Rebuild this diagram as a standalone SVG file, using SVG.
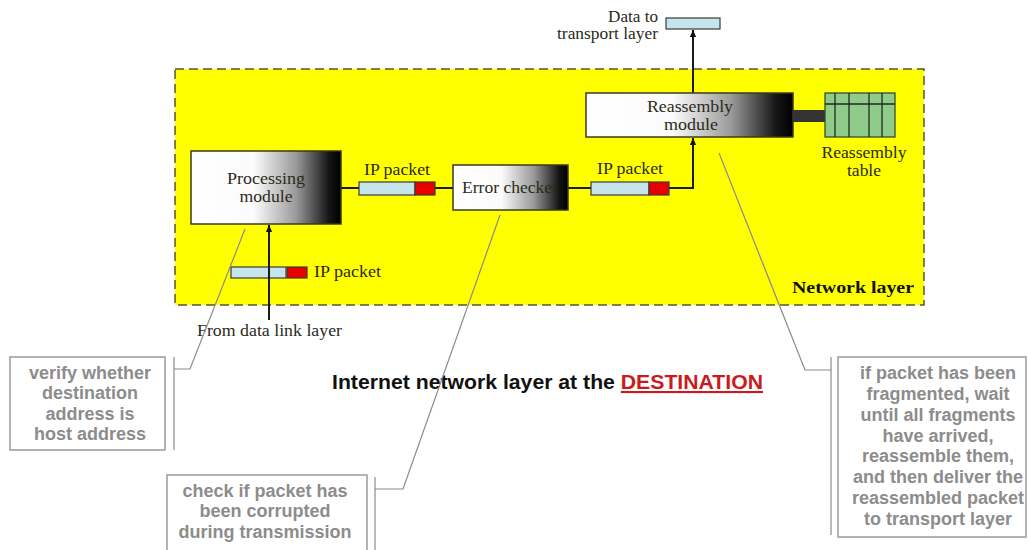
<svg xmlns="http://www.w3.org/2000/svg" width="1028" height="550" viewBox="0 0 1028 550">
  <defs>
    <linearGradient id="modFill" x1="0" y1="0" x2="1" y2="0">
      <stop offset="0" stop-color="#ffffff"/>
      <stop offset="0.42" stop-color="#fbfbfb"/>
      <stop offset="0.7" stop-color="#9a9a9a"/>
      <stop offset="0.92" stop-color="#151515"/>
      <stop offset="1" stop-color="#000000"/>
    </linearGradient>
    <marker id="arrow" viewBox="0 0 10 10" refX="10" refY="5" markerWidth="7" markerHeight="7" markerUnits="userSpaceOnUse" orient="auto">
      <path d="M0,0.5 L10,5 L0,9.5 Z" fill="#111"/>
    </marker>
    <style>
      .serif { font-family: "Liberation Serif", "Times New Roman", serif; font-size: 16px; fill: #2a2a1a; }
      .module { fill: url(#modFill); stroke: #3a3a20; stroke-width: 1.5; }
      .payload { fill: #c6e4ec; stroke: #3a3a3a; stroke-width: 1.2; }
      .trailer { fill: #e80000; stroke: #3a3a3a; stroke-width: 1.2; }
      .wire { fill: none; stroke: #1a1a1a; stroke-width: 2; }
      .note-box { fill: #ffffff; stroke: #9a9a9a; stroke-width: 1.5; }
      .note-text { font-family: "Liberation Sans", Arial, sans-serif; font-size: 18px; font-weight: bold; fill: #8c8c8c; text-anchor: middle; }
      .leader { fill: none; stroke: #8a8a8a; stroke-width: 1.2; }
      .cell { stroke: #1e2a1e; stroke-width: 1.3; }
    </style>
  </defs>

  <rect width="1028" height="550" fill="#ffffff"/>

  <!-- network layer area -->
  <g id="network-layer">
    <rect x="175" y="69" width="749" height="236" fill="#ffff00" stroke="#555533" stroke-width="1.5" stroke-dasharray="9 5"/>
    <text x="914" y="293" text-anchor="end" class="serif" style="font-weight:bold; fill:#111" textLength="122" lengthAdjust="spacingAndGlyphs">Network layer</text>
  </g>

  <!-- connectors -->
  <g id="connectors">
    <line class="wire" x1="341" y1="188" x2="359" y2="188"/>
    <line class="wire" x1="435" y1="188" x2="453" y2="188"/>
    <line class="wire" x1="568" y1="188" x2="591" y2="188"/>
    <polyline class="wire" points="669,188 693,188 693,138" marker-end="url(#arrow)"/>
    <line class="wire" x1="693" y1="93" x2="693" y2="30" marker-end="url(#arrow)"/>
    <rect x="793" y="110" width="32" height="12" fill="#333333"/>
  </g>

  <!-- processing module -->
  <g id="processing-module">
    <rect class="module" x="191" y="151" width="150" height="73"/>
    <text class="serif" x="266" y="184" text-anchor="middle" textLength="78" lengthAdjust="spacingAndGlyphs">Processing</text>
    <text class="serif" x="266" y="202" text-anchor="middle" textLength="53" lengthAdjust="spacingAndGlyphs">module</text>
  </g>

  <!-- packet between processing module and error checker -->
  <g id="packet-1">
    <rect class="payload" x="359" y="182" width="56" height="13"/>
    <rect class="trailer" x="415" y="182" width="20" height="13"/>
    <text class="serif" x="397" y="175" text-anchor="middle" textLength="66" lengthAdjust="spacingAndGlyphs">IP packet</text>
  </g>

  <!-- error checker -->
  <g id="error-checker">
    <rect class="module" x="453" y="165" width="115" height="45"/>
    <text class="serif" x="510" y="193" text-anchor="middle" textLength="96" lengthAdjust="spacingAndGlyphs">Error checker</text>
  </g>

  <!-- packet between error checker and reassembly -->
  <g id="packet-2">
    <rect class="payload" x="591" y="182" width="58" height="13"/>
    <rect class="trailer" x="649" y="182" width="20" height="13"/>
    <text class="serif" x="630" y="174" text-anchor="middle" textLength="66" lengthAdjust="spacingAndGlyphs">IP packet</text>
  </g>

  <!-- reassembly module -->
  <g id="reassembly-module">
    <rect class="module" x="586" y="93" width="207" height="44"/>
    <text class="serif" x="690" y="112" text-anchor="middle" textLength="86" lengthAdjust="spacingAndGlyphs">Reassembly</text>
    <text class="serif" x="691" y="130" text-anchor="middle" textLength="54" lengthAdjust="spacingAndGlyphs">module</text>
  </g>

  <!-- reassembly table -->
  <g id="reassembly-table">
    <rect x="825" y="93" width="70" height="44" fill="#8fcc8a" stroke="#3a4a30" stroke-width="1.3"/>
    <line class="cell" x1="825" y1="104" x2="895" y2="104"/>
    <line class="cell" x1="835" y1="93" x2="835" y2="137"/>
    <line class="cell" x1="849" y1="93" x2="849" y2="137"/>
    <line class="cell" x1="869" y1="93" x2="869" y2="137"/>
    <line class="cell" x1="882" y1="93" x2="882" y2="137"/>
    <text class="serif" x="864" y="158" text-anchor="middle" textLength="85" lengthAdjust="spacingAndGlyphs">Reassembly</text>
    <text class="serif" x="864" y="176" text-anchor="middle" textLength="34" lengthAdjust="spacingAndGlyphs">table</text>
  </g>

  <!-- data handed to the transport layer -->
  <g id="transport-output">
    <rect class="payload" x="666" y="18" width="54" height="11"/>
    <text class="serif" x="658" y="22" text-anchor="end" textLength="50" lengthAdjust="spacingAndGlyphs">Data to</text>
    <text class="serif" x="658" y="39" text-anchor="end" textLength="101" lengthAdjust="spacingAndGlyphs">transport layer</text>
  </g>

  <!-- incoming packet from the data link layer -->
  <g id="incoming-packet">
    <rect class="payload" x="231" y="267" width="55" height="11"/>
    <rect class="trailer" x="287" y="267" width="20" height="11"/>
    <text class="serif" x="314" y="277" textLength="67" lengthAdjust="spacingAndGlyphs">IP packet</text>
    <line class="wire" x1="269" y1="320" x2="269" y2="225" marker-end="url(#arrow)"/>
    <text class="serif" x="197" y="336" textLength="145" lengthAdjust="spacingAndGlyphs">From data link layer</text>
  </g>

  <!-- caption -->
  <g id="caption">
    <text x="332" y="389" font-family="'Liberation Sans', Arial, sans-serif" font-size="21" font-weight="bold" fill="#111" textLength="431" lengthAdjust="spacingAndGlyphs">Internet network layer at the <tspan fill="#cc1a1a" text-decoration="underline">DESTINATION</tspan></text>
  </g>

  <!-- note: destination address check -->
  <g id="note-address">
    <polyline class="leader" points="174,369 190,369 245,229"/>
    <line class="leader" x1="174" y1="357" x2="174" y2="450"/>
    <rect class="note-box" x="10" y="357" width="155" height="93"/>
    <text class="note-text" x="90" y="379">verify whether</text>
    <text class="note-text" x="90" y="399">destination</text>
    <text class="note-text" x="90" y="420">address is</text>
    <text class="note-text" x="90" y="440">host address</text>
  </g>

  <!-- note: corruption check -->
  <g id="note-corruption">
    <polyline class="leader" points="375,489 403,489 500,215"/>
    <line class="leader" x1="375" y1="477" x2="375" y2="552"/>
    <rect class="note-box" x="167" y="475" width="200" height="90"/>
    <text class="note-text" x="265" y="497">check if packet has</text>
    <text class="note-text" x="265" y="517">been corrupted</text>
    <text class="note-text" x="265" y="538">during transmission</text>
  </g>

  <!-- note: reassembly -->
  <g id="note-reassembly">
    <polyline class="leader" points="831,370 805,370 719,153"/>
    <line class="leader" x1="831" y1="357" x2="831" y2="535"/>
    <rect class="note-box" x="838" y="357" width="188" height="180"/>
    <text class="note-text" x="938" y="379">if packet has been</text>
    <text class="note-text" x="938" y="400">fragmented, wait</text>
    <text class="note-text" x="938" y="421">until all fragments</text>
    <text class="note-text" x="938" y="442">have arrived,</text>
    <text class="note-text" x="938" y="462">reassemble them,</text>
    <text class="note-text" x="938" y="483">and then deliver the</text>
    <text class="note-text" x="938" y="504">reassembled packet</text>
    <text class="note-text" x="938" y="525">to transport layer</text>
  </g>
</svg>
